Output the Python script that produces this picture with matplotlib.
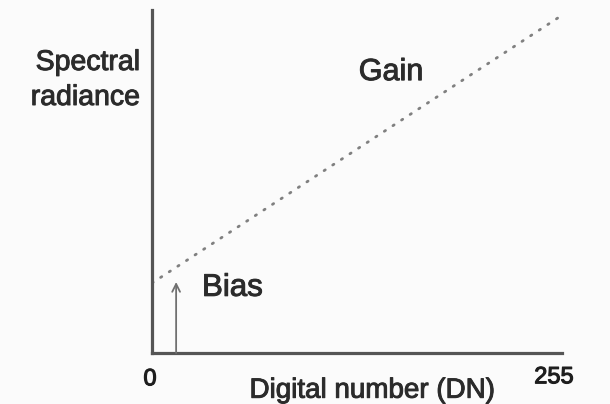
import numpy as np
import matplotlib
matplotlib.use("Agg")
import matplotlib.pyplot as plt
import matplotlib.patheffects as pe
from matplotlib.transforms import ScaledTranslation

# calibration line: radiance = bias + gain * DN
dn = [0, 252.5]
radiance = [20.4, 97.7]
bias_dn = 15
bias_value = 20.7
tick_values = [0, 255]
tick_labels = ["0", "255"]

plt.rcParams['font.family'] = ['Liberation Sans', 'DejaVu Sans']
txt_color = '#2b2b2b'
thick = [pe.withStroke(linewidth=0.7, foreground=txt_color)]

fig = plt.figure(figsize=(6.10, 4.04), dpi=100, facecolor='#fbfbfb')
ax = fig.add_axes([0.2492, 0.1262, 0.672, 0.849])
ax.set_facecolor('#fbfbfb')

ax.plot(dn, radiance, color='#808080', lw=2.0, linestyle=(0, (0.5, 3.2)),
        dash_capstyle='round')

ax.annotate("", xy=(bias_dn, bias_value), xytext=(bias_dn, 0),
            arrowprops=dict(arrowstyle='->', color='#707070', lw=1.3,
                            shrinkA=0, shrinkB=0, mutation_scale=14))

ax.text(31.1, 19.0, "Bias", fontsize=22.5, color=txt_color, va='center',
        ha='left', path_effects=thick)
ax.text(148.6, 81.9, "Gain", fontsize=22, color=txt_color, va='center',
        ha='center', path_effects=thick)

ax.set_xlim(0, 255)
ax.set_ylim(0, 100)

for side in ['top', 'right']:
    ax.spines[side].set_visible(False)
for side in ['left', 'bottom']:
    ax.spines[side].set_color('#555555')
    ax.spines[side].set_linewidth(2.3)

ax.set_yticks([])
ax.set_xticks(tick_values)
ax.set_xticklabels(tick_labels, fontsize=17, color='#1e1e1e')
ax.tick_params(axis='x', length=0, pad=11)
labels = ax.get_xticklabels()
labels[0].set_transform(labels[0].get_transform()
                        + ScaledTranslation(-2 / 100, 0, fig.dpi_scale_trans))
labels[1].set_transform(labels[1].get_transform()
                        + ScaledTranslation(-8 / 100, 2 / 100, fig.dpi_scale_trans))
for lab in labels:
    lab.set_path_effects([pe.withStroke(linewidth=0.8, foreground='#1e1e1e')])

ax.set_xlabel("Digital number (DN)", fontsize=20, color=txt_color,
              path_effects=thick)
ax.xaxis.set_label_coords(0.537, -0.072)

fig.text(140 / 610, 1 - 80.5 / 404, "Spectral\nradiance", fontsize=20.5,
         color=txt_color, ha='right', va='center', linespacing=1.45,
         path_effects=thick)

fig.savefig("out.png", dpi=100, facecolor=fig.get_facecolor())
